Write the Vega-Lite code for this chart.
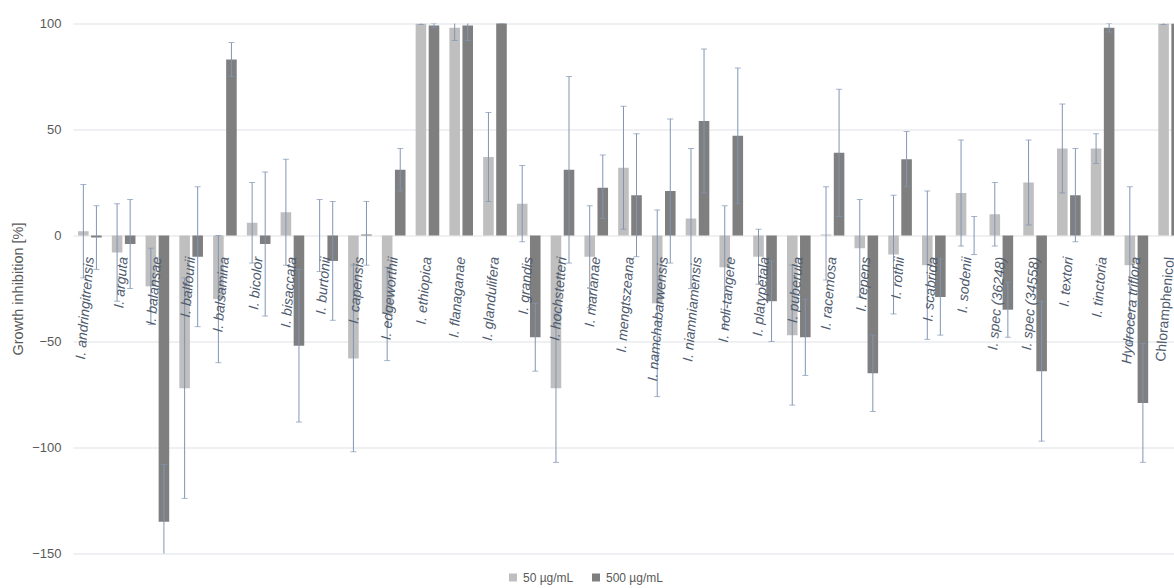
{
  "$schema": "https://vega.github.io/schema/vega-lite/v6.json",
  "width": 1101,
  "height": 530,
  "autosize": {"type": "none"},
  "padding": {"left": 73, "top": 23.5, "right": 0, "bottom": 34.5},
  "background": "white",
  "config": {"font": "Liberation Sans", "view": {"stroke": null}},
  "data": {"values": [
    {"sp": "I. andringitrensis", "conc": "50 µg/mL", "v": 2, "lo": -20, "hi": 24},
    {"sp": "I. andringitrensis", "conc": "500 µg/mL", "v": -1, "lo": -16, "hi": 14},
    {"sp": "I. arguta", "conc": "50 µg/mL", "v": -8, "lo": -31, "hi": 15},
    {"sp": "I. arguta", "conc": "500 µg/mL", "v": -4, "lo": -25, "hi": 17},
    {"sp": "I. balansae", "conc": "50 µg/mL", "v": -24, "lo": -42, "hi": -6},
    {"sp": "I. balansae", "conc": "500 µg/mL", "v": -135, "lo": -162, "hi": -108},
    {"sp": "I. balfourii", "conc": "50 µg/mL", "v": -72, "lo": -124, "hi": -20},
    {"sp": "I. balfourii", "conc": "500 µg/mL", "v": -10, "lo": -43, "hi": 23},
    {"sp": "I. balsamina", "conc": "50 µg/mL", "v": -30, "lo": -60, "hi": 0},
    {"sp": "I. balsamina", "conc": "500 µg/mL", "v": 83, "lo": 75, "hi": 91},
    {"sp": "I. bicolor", "conc": "50 µg/mL", "v": 6, "lo": -13, "hi": 25},
    {"sp": "I. bicolor", "conc": "500 µg/mL", "v": -4, "lo": -38, "hi": 30},
    {"sp": "I. bisaccata", "conc": "50 µg/mL", "v": 11, "lo": -14, "hi": 36},
    {"sp": "I. bisaccata", "conc": "500 µg/mL", "v": -52, "lo": -88, "hi": -16},
    {"sp": "I. burtonii", "conc": "50 µg/mL", "v": 0, "lo": -17, "hi": 17},
    {"sp": "I. burtonii", "conc": "500 µg/mL", "v": -12, "lo": -40, "hi": 16},
    {"sp": "I. capensis", "conc": "50 µg/mL", "v": -58, "lo": -102, "hi": -14},
    {"sp": "I. capensis", "conc": "500 µg/mL", "v": 0.5, "lo": -14, "hi": 16},
    {"sp": "I. edgeworthii", "conc": "50 µg/mL", "v": -37, "lo": -59, "hi": -15},
    {"sp": "I. edgeworthii", "conc": "500 µg/mL", "v": 31, "lo": 21, "hi": 41},
    {"sp": "I. ethiopica", "conc": "50 µg/mL", "v": 100, "lo": 99.5, "hi": 100.5},
    {"sp": "I. ethiopica", "conc": "500 µg/mL", "v": 99, "lo": 98, "hi": 100},
    {"sp": "I. flanaganae", "conc": "50 µg/mL", "v": 98, "lo": 92, "hi": 104},
    {"sp": "I. flanaganae", "conc": "500 µg/mL", "v": 99, "lo": 92, "hi": 106},
    {"sp": "I. glandulifera", "conc": "50 µg/mL", "v": 37, "lo": 16, "hi": 58},
    {"sp": "I. glandulifera", "conc": "500 µg/mL", "v": 101, "lo": 100, "hi": 102},
    {"sp": "I. grandis", "conc": "50 µg/mL", "v": 15, "lo": -3, "hi": 33},
    {"sp": "I. grandis", "conc": "500 µg/mL", "v": -48, "lo": -64, "hi": -32},
    {"sp": "I. hochstetteri", "conc": "50 µg/mL", "v": -72, "lo": -107, "hi": -37},
    {"sp": "I. hochstetteri", "conc": "500 µg/mL", "v": 31, "lo": -13, "hi": 75},
    {"sp": "I. marianae", "conc": "50 µg/mL", "v": -10, "lo": -34, "hi": 14},
    {"sp": "I. marianae", "conc": "500 µg/mL", "v": 22.5, "lo": 8, "hi": 38},
    {"sp": "I. mengtszeana", "conc": "50 µg/mL", "v": 32, "lo": 3, "hi": 61},
    {"sp": "I. mengtszeana", "conc": "500 µg/mL", "v": 19, "lo": -10, "hi": 48},
    {"sp": "I. namchabarwensis", "conc": "50 µg/mL", "v": -32, "lo": -76, "hi": 12},
    {"sp": "I. namchabarwensis", "conc": "500 µg/mL", "v": 21, "lo": -13, "hi": 55},
    {"sp": "I. niamniamensis", "conc": "50 µg/mL", "v": 8, "lo": -25, "hi": 41},
    {"sp": "I. niamniamensis", "conc": "500 µg/mL", "v": 54, "lo": 20, "hi": 88},
    {"sp": "I. noli-tangere", "conc": "50 µg/mL", "v": -15, "lo": -44, "hi": 14},
    {"sp": "I. noli-tangere", "conc": "500 µg/mL", "v": 47, "lo": 15, "hi": 79},
    {"sp": "I. platypetala", "conc": "50 µg/mL", "v": -10, "lo": -23, "hi": 3},
    {"sp": "I. platypetala", "conc": "500 µg/mL", "v": -31, "lo": -50, "hi": -12},
    {"sp": "I. puberula", "conc": "50 µg/mL", "v": -47, "lo": -80, "hi": -14},
    {"sp": "I. puberula", "conc": "500 µg/mL", "v": -48, "lo": -66, "hi": -30},
    {"sp": "I. racemosa", "conc": "50 µg/mL", "v": 0.5, "lo": -21, "hi": 23},
    {"sp": "I. racemosa", "conc": "500 µg/mL", "v": 39, "lo": 9, "hi": 69},
    {"sp": "I. repens", "conc": "50 µg/mL", "v": -6, "lo": -29, "hi": 17},
    {"sp": "I. repens", "conc": "500 µg/mL", "v": -65, "lo": -83, "hi": -47},
    {"sp": "I. rothii", "conc": "50 µg/mL", "v": -9, "lo": -37, "hi": 19},
    {"sp": "I. rothii", "conc": "500 µg/mL", "v": 36, "lo": 23, "hi": 49},
    {"sp": "I. scabrida", "conc": "50 µg/mL", "v": -14, "lo": -49, "hi": 21},
    {"sp": "I. scabrida", "conc": "500 µg/mL", "v": -29, "lo": -47, "hi": -11},
    {"sp": "I. sodenii", "conc": "50 µg/mL", "v": 20, "lo": -5, "hi": 45},
    {"sp": "I. sodenii", "conc": "500 µg/mL", "v": 0, "lo": -9, "hi": 9},
    {"sp": "I. spec (36248)", "conc": "50 µg/mL", "v": 10, "lo": -5, "hi": 25},
    {"sp": "I. spec (36248)", "conc": "500 µg/mL", "v": -35, "lo": -48, "hi": -22},
    {"sp": "I. spec (34558)", "conc": "50 µg/mL", "v": 25, "lo": 5, "hi": 45},
    {"sp": "I. spec (34558)", "conc": "500 µg/mL", "v": -64, "lo": -97, "hi": -31},
    {"sp": "I. textori", "conc": "50 µg/mL", "v": 41, "lo": 20, "hi": 62},
    {"sp": "I. textori", "conc": "500 µg/mL", "v": 19, "lo": -3, "hi": 41},
    {"sp": "I. tinctoria", "conc": "50 µg/mL", "v": 41, "lo": 34, "hi": 48},
    {"sp": "I. tinctoria", "conc": "500 µg/mL", "v": 98, "lo": 96, "hi": 100},
    {"sp": "Hydrocera triflora", "conc": "50 µg/mL", "v": -14, "lo": -51, "hi": 23},
    {"sp": "Hydrocera triflora", "conc": "500 µg/mL", "v": -79, "lo": -107, "hi": -51},
    {"sp": "Chloramphenicol", "conc": "50 µg/mL", "v": 100, "lo": 99.5, "hi": 100.5},
    {"sp": "Chloramphenicol", "conc": "500 µg/mL", "v": 100, "lo": 99.5, "hi": 100.5}
  ]},
  "encoding": {
    "x": {
      "field": "sp", "type": "nominal", "sort": null,
      "scale": {"range": [0, 1114], "paddingInner": 0.3, "paddingOuter": 0.15},
      "axis": {
        "orient": "bottom", "offset": -318, "title": null, "domain": false, "ticks": false,
        "labelAngle": -85, "labelPadding": 21, "labelFontSize": 14,
        "labelFontStyle": {"condition": {"test": "datum.label == 'Chloramphenicol'", "value": "normal"}, "value": "italic"},
        "labelColor": "#4f5b6e", "labelOverlap": false, "labelLimit": 0, "zindex": 1
      }
    },
    "xOffset": {"field": "conc", "type": "nominal", "sort": ["50 µg/mL", "500 µg/mL"], "scale": {"paddingInner": 0.19, "paddingOuter": 0}}
  },
  "layer": [
    {
      "mark": {"type": "bar", "clip": true},
      "encoding": {
        "y": {
          "field": "v", "type": "quantitative",
          "scale": {"domain": [-150, 100], "nice": false, "zero": false},
          "axis": {
            "title": "Growth inhibition [%]", "values": [-150, -100, -50, 0, 50, 100],
            "grid": true, "gridColor": "#dde1e6", "domain": false, "ticks": false,
            "labelPadding": 12, "labelFontSize": 13, "labelColor": "#595959",
            "titleFontSize": 14.5, "titleFontWeight": "normal", "titleColor": "#595959", "titlePadding": 6
          }
        },
        "color": {
          "field": "conc", "type": "nominal", "sort": ["50 µg/mL", "500 µg/mL"],
          "scale": {"range": ["#bfbfbf", "#7f7f7f"]},
          "legend": {
            "title": null, "orient": "none", "direction": "horizontal", "legendX": 434, "legendY": 548,
            "labelFontSize": 12, "labelColor": "#595959", "symbolType": "square", "symbolSize": 64,
            "symbolStrokeWidth": 0, "columnPadding": 16, "labelOffset": 4
          }
        }
      }
    },
    {
      "mark": {"type": "rule", "clip": true, "color": "#8096b4", "strokeWidth": 1},
      "encoding": {"y": {"field": "lo", "type": "quantitative"}, "y2": {"field": "hi"}}
    },
    {
      "mark": {"type": "tick", "clip": true, "color": "#8096b4", "size": 6, "thickness": 1, "orient": "horizontal"},
      "encoding": {"y": {"field": "lo", "type": "quantitative"}}
    },
    {
      "mark": {"type": "tick", "clip": true, "color": "#8096b4", "size": 6, "thickness": 1, "orient": "horizontal"},
      "encoding": {"y": {"field": "hi", "type": "quantitative"}}
    }
  ]
}
